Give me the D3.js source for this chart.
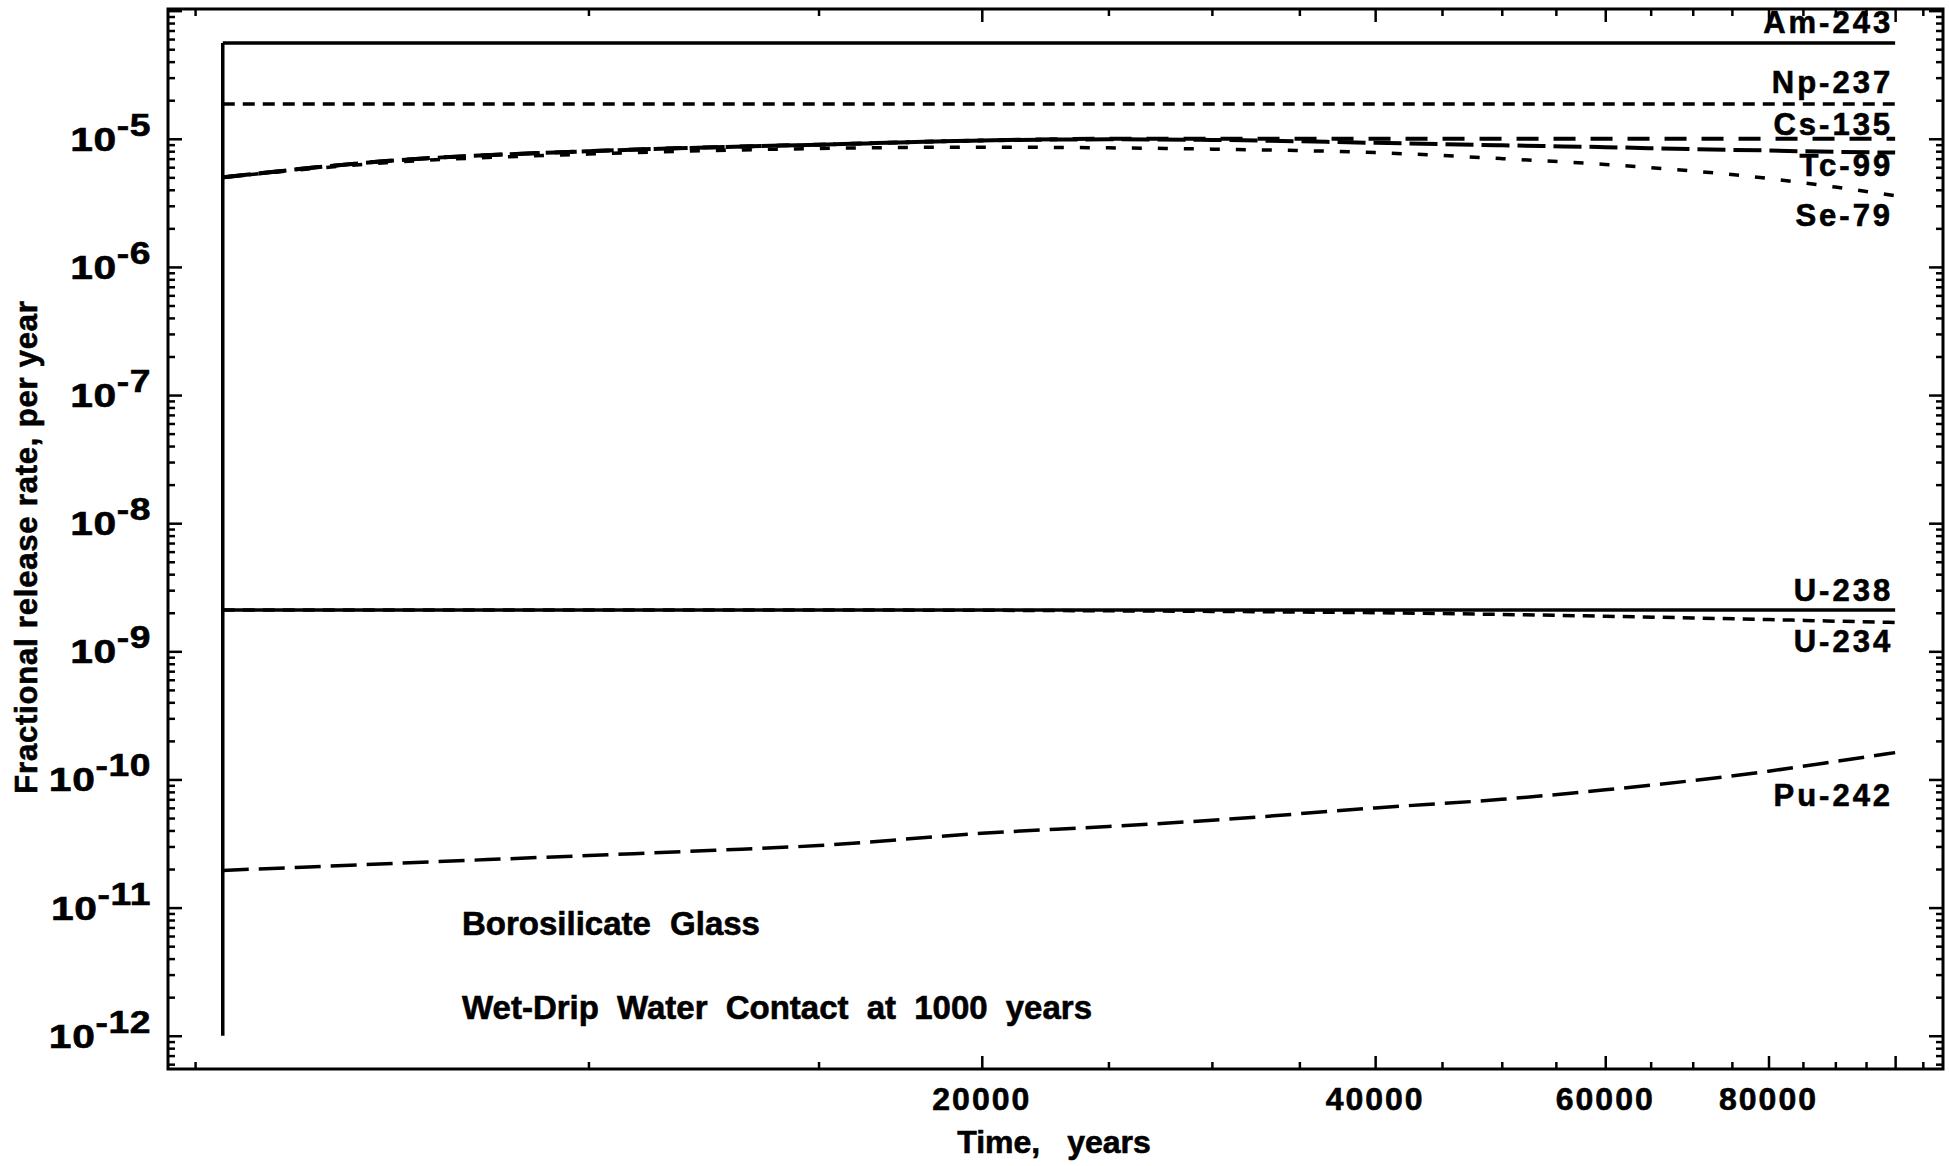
<!DOCTYPE html>
<html>
<head>
<meta charset="utf-8">
<script src="https://cdn.jsdelivr.net/npm/d3@7"></script>
<style>
  body { margin: 0; background: #fff; }
  svg { display: block; font-family: "Liberation Sans", Arial, sans-serif; font-weight: bold; }
  text { fill: #000; stroke: #000; stroke-width: 0.6px; }
</style>
</head>
<body>
<div id="chart"></div>
<script>
// time points, years
const years = [5250, 7000, 10000, 12500, 15000, 20000, 25000, 30000, 40000, 50000, 60000, 70000, 80000, 90000, 100000];

// fractional release rates, per year
const am243 = [5.6e-5, 5.6e-5, 5.6e-5, 5.6e-5, 5.6e-5, 5.6e-5, 5.6e-5, 5.6e-5, 5.6e-5, 5.6e-5, 5.6e-5, 5.6e-5, 5.6e-5, 5.6e-5, 5.6e-5];
const np237 = [1.87e-5, 1.87e-5, 1.87e-5, 1.87e-5, 1.87e-5, 1.87e-5, 1.87e-5, 1.87e-5, 1.87e-5, 1.87e-5, 1.87e-5, 1.87e-5, 1.87e-5, 1.87e-5, 1.87e-5];
const cs135 = [5.0e-6, 6.7e-6, 8.0e-6, 8.6e-6, 9.0e-6, 9.7e-6, 1.0e-5, 1.0e-5, 1.0e-5, 1.0e-5, 1.0e-5, 1.0e-5, 1.0e-5, 1.0e-5, 1.0e-5];
const tc99 = [5.0e-6, 6.7e-6, 8.0e-6, 8.6e-6, 9.0e-6, 9.7e-6, 9.9e-6, 9.8e-6, 9.3e-6, 8.9e-6, 8.6e-6, 8.3e-6, 8.1e-6, 7.9e-6, 7.8e-6];
const se79 = [5.0e-6, 6.5e-6, 7.6e-6, 8.1e-6, 8.4e-6, 8.6e-6, 8.5e-6, 8.3e-6, 7.8e-6, 7.0e-6, 6.3e-6, 5.6e-6, 4.9e-6, 4.2e-6, 3.6e-6];
const u238 = [2.1e-9, 2.1e-9, 2.1e-9, 2.1e-9, 2.1e-9, 2.1e-9, 2.1e-9, 2.1e-9, 2.1e-9, 2.1e-9, 2.1e-9, 2.1e-9, 2.1e-9, 2.1e-9, 2.1e-9];
const u234 = [2.1e-9, 2.1e-9, 2.1e-9, 2.1e-9, 2.1e-9, 2.09e-9, 2.07e-9, 2.05e-9, 2.0e-9, 1.94e-9, 1.88e-9, 1.82e-9, 1.77e-9, 1.72e-9, 1.68e-9];
const pu242 = [1.95e-11, 2.2e-11, 2.55e-11, 2.8e-11, 3.05e-11, 3.8e-11, 4.3e-11, 4.8e-11, 6.0e-11, 7.0e-11, 8.3e-11, 9.8e-11, 1.16e-10, 1.38e-10, 1.62e-10];

// release starts at this level when water contacts the glass
const startRate = 1e-12;

const nuclides = ["Am-243", "Np-237", "Cs-135", "Tc-99", "Se-79", "U-238", "U-234", "Pu-242"];
const rates = [am243, np237, cs135, tc99, se79, u238, u234, pu242];

const xTickLabels = [20000, 40000, 60000, 80000];
const yDecades = [-12, -11, -10, -9, -8, -7, -6, -5];

// drawing styles
const dashes = {
    "Am-243": null, "Np-237": "12,8", "Cs-135": "22,15", "Tc-99": "28,8",
    "Se-79": "10,16", "U-238": null, "U-234": "12,8", "Pu-242": "26,10"
};
const widths = { "Cs-135": 4, "Tc-99": 4 };
const labelDy = {
    "Am-243": -10, "Np-237": -11, "Cs-135": -4, "Tc-99": 23,
    "Se-79": 30, "U-238": -9, "U-234": 30, "Pu-242": 53
};

const W = 1949, H = 1166;
const margin = { top: 9, right: 6, bottom: 97, left: 168 };
const width = W - margin.left - margin.right;
const height = H - margin.top - margin.bottom;

const svg = d3.select("#chart")
    .append("svg")
        .attr("width", W)
        .attr("height", H);

const g = svg.append("g")
    .attr("transform", `translate(${margin.left},${margin.top})`);

const x = d3.scaleLog().domain([4767, 108800]).range([0, width]);
const y = d3.scaleLog().domain([5.5e-13, 1.03e-4]).range([height, 0]);

// ticks
const xMinor = d3.range(5000, 105001, 5000).filter(d => d % 20000 !== 0);
const xMajor = [20000, 40000, 60000, 80000, 100000];
const yMajor = yDecades.concat([-4]).map(e => Math.pow(10, e));
const yMinor = [];
for (let e = -13; e <= -5; e++) {
    for (let m = 2; m <= 9; m++) {
        const v = m * Math.pow(10, e);
        if (v > y.domain()[0] && v < y.domain()[1]) yMinor.push(v);
    }
}

function tickAxis(axis, values, size, transform) {
    const a = g.append("g")
        .attr("transform", transform)
        .call(axis.tickValues(values).tickSize(size).tickFormat(""));
    a.select(".domain").remove();
    a.selectAll("line").attr("stroke", "#000").attr("stroke-width", 2.5);
}

tickAxis(d3.axisBottom(x), xMinor, -7, `translate(0,${height})`);
tickAxis(d3.axisBottom(x), xMajor, -13, `translate(0,${height})`);
tickAxis(d3.axisTop(x), xMinor, -7, "translate(0,0)");
tickAxis(d3.axisTop(x), xMajor, -13, "translate(0,0)");
tickAxis(d3.axisLeft(y), yMinor, -7, "translate(0,0)");
tickAxis(d3.axisLeft(y), yMajor, -14, "translate(0,0)");
tickAxis(d3.axisRight(y), yMinor, -7, `translate(${width},0)`);
tickAxis(d3.axisRight(y), yMajor, -14, `translate(${width},0)`);

// frame
g.append("rect")
    .attr("width", width)
    .attr("height", height)
    .attr("fill", "none")
    .attr("stroke", "#000")
    .attr("stroke-width", 3);

// x labels
g.selectAll(".xlab")
    .data(xTickLabels)
    .enter()
    .append("text")
        .attr("class", "xlab")
        .attr("x", d => x(d))
        .attr("y", height + 41)
        .attr("text-anchor", "middle")
        .style("font-size", "32px")
        .style("letter-spacing", "2px")
        .text(d => d);

// y labels 10^n, drawn a little wide like the original lettering
const ylab = g.selectAll(".ylab")
    .data(yDecades)
    .enter()
    .append("text")
        .attr("class", "ylab")
        .attr("transform", d => `translate(-17,${y(Math.pow(10, d)) + 12}) scale(1.2,1)`)
        .attr("text-anchor", "end")
        .style("font-size", "34px")
        .style("letter-spacing", "0.5px");
ylab.append("tspan").text("10");
ylab.append("tspan")
    .attr("dy", -15)
    .style("font-size", "31px")
    .text(d => "-" + Math.abs(d));

// axis titles
svg.append("text")
    .attr("x", 1054)
    .attr("y", 1153)
    .attr("text-anchor", "middle")
    .style("font-size", "32px")
    .style("word-spacing", "18px")
    .text("Time, years");

svg.append("text")
    .attr("transform", "translate(37,547) rotate(-90)")
    .attr("text-anchor", "middle")
    .style("font-size", "31px")
    .style("letter-spacing", "0.8px")
    .text("Fractional release rate, per year");

// curves
const line = d3.line()
    .x(d => x(d[0]))
    .y(d => y(d[1]));

// vertical rise at contact
g.append("path")
    .attr("d", line([[years[0], startRate], [years[0], d3.max(am243)]]))
    .attr("fill", "none")
    .attr("stroke", "#000")
    .attr("stroke-width", 3.5);

nuclides.forEach((name, i) => {
    const pts = years.map((t, j) => [t, rates[i][j]]);
    g.append("path")
        .attr("d", line.curve(d3.curveMonotoneX)(pts))
        .attr("fill", "none")
        .attr("stroke", "#000")
        .attr("stroke-width", widths[name] || 3.5)
        .attr("stroke-dasharray", dashes[name]);

    const last = rates[i][rates[i].length - 1];
    g.append("text")
        .attr("x", x(years[years.length - 1]) - 2)
        .attr("y", y(last) + labelDy[name])
        .attr("text-anchor", "end")
        .style("font-size", "31px")
        .style("letter-spacing", "3px")
        .text(name);
});

// notes
g.append("text")
    .attr("x", 462 - margin.left)
    .attr("y", 935 - margin.top)
    .style("font-size", "33px")
    .style("word-spacing", "10px")
    .text("Borosilicate Glass");

g.append("text")
    .attr("x", 462 - margin.left)
    .attr("y", 1019 - margin.top)
    .style("font-size", "33px")
    .style("word-spacing", "9px")
    .text("Wet-Drip Water Contact at 1000 years");
</script>
</body>
</html>
